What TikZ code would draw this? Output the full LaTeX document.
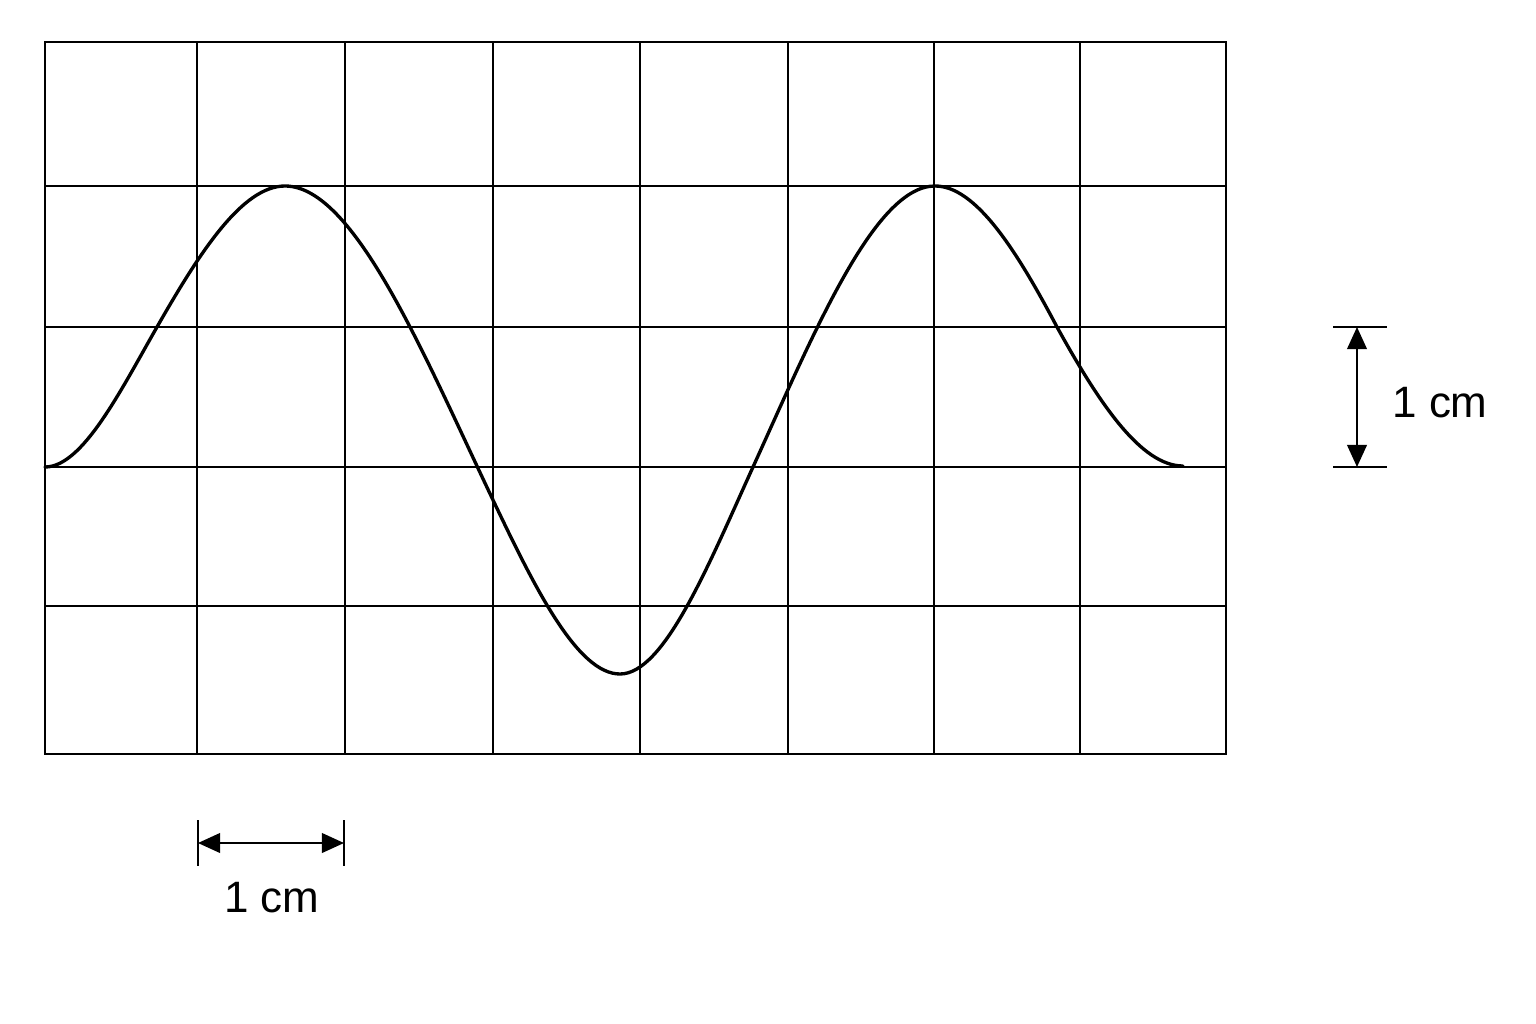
\documentclass[tikz,border=0pt]{standalone}
\usepackage{fontspec}
\setmainfont{Liberation Sans}
\usetikzlibrary{arrows.meta}
\begin{document}
\begin{tikzpicture}[x=0.01cm,y=-0.01cm,
  gridline/.style={line width=0.6pt},
  frameline/.style={line width=0.8pt},
  wave/.style={line width=0.95pt, line join=round, line cap=round},
  tickline/.style={line width=0.6pt},
  dimarrow/.style={line width=0.6pt, {Triangle[length=6.3pt,width=5.6pt]}-{Triangle[length=6.3pt,width=5.6pt]}},
  lbl/.style={font=\fontsize{12.5}{15}\selectfont, inner sep=0pt}]
\useasboundingbox[fill=white] (0,0) rectangle (1536,1024);
% grid
\foreach \x in {197,345,493,640,788,934,1080} \draw[gridline] (\x,42) -- (\x,754);
\foreach \y in {186,327,467,606} \draw[gridline] (45,\y) -- (1226,\y);
\draw[frameline] (45,42) rectangle (1226,754);
% wave
\draw[wave] (45,467)
  .. controls (82.3,467) and (119.7,392.3) .. (157,327)
  .. controls (199.7,252.3) and (242.3,186) .. (285,186)
  .. controls (354.3,186) and (423.7,354.5) .. (493,500)
  .. controls (535.3,588.9) and (577.7,674) .. (620,674)
  .. controls (664.3,674) and (708.7,564.5) .. (753,467)
  .. controls (813.7,333.5) and (874.3,186) .. (935,186)
  .. controls (975.7,186) and (1016.3,250) .. (1057,327)
  .. controls (1099,403) and (1141,466) .. (1183,466);
% vertical scale
\coordinate (vt) at (1357,327);
\coordinate (vb) at (1357,467);
\coordinate (vtl) at (1333,327); \coordinate (vtr) at (1387,327);
\coordinate (vbl) at (1333,467); \coordinate (vbr) at (1387,467);
\draw[tickline] (vtl) -- (vtr);
\draw[tickline] (vbl) -- (vbr);
\draw[dimarrow] (vt) -- (vb);
\node[lbl] (vlabel) at (1440,403) {1 cm};
% horizontal scale
\coordinate (hl) at (198,843);
\coordinate (hr) at (344,843);
\coordinate (hlt) at (198,820); \coordinate (hlb) at (198,866);
\coordinate (hrt) at (344,820); \coordinate (hrb) at (344,866);
\draw[tickline] (hlt) -- (hlb);
\draw[tickline] (hrt) -- (hrb);
\draw[dimarrow] (hl) -- (hr);
\node[lbl] (hlabel) at (272,898) {1 cm};
\end{tikzpicture}
\end{document}
